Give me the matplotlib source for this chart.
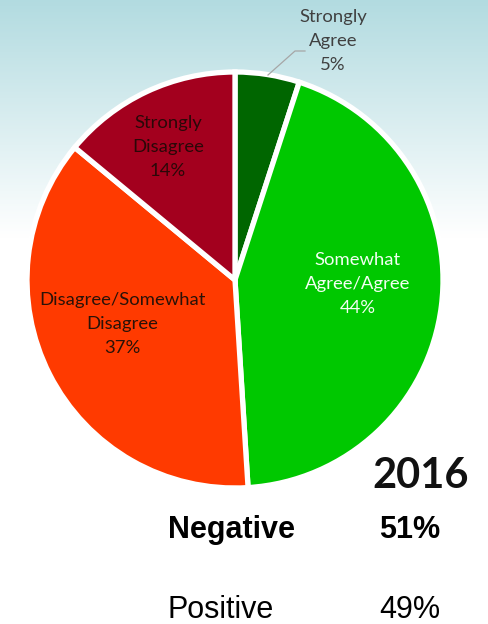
import numpy as np
import matplotlib.pyplot as plt

# Survey response shares (clockwise from 12 o'clock)
categories = ["Strongly\nAgree", "Somewhat\nAgree/Agree", "Disagree/Somewhat\nDisagree", "Strongly\nDisagree"]
shares = [5, 44, 37, 14]
colors = ["#006600", "#00C800", "#FF3A00", "#A3001E"]
label_colors = ["#404040", "#F2FFF2", "#2A1208", "#2A0808"]

summary_labels = ["Negative", "Positive"]
summary_values = [51, 49]
year = "2016"

W, H = 489, 624
fig = plt.figure(figsize=(W / 100, H / 100), dpi=100)

# soft teal-to-white wash across the top of the canvas
bg = fig.add_axes([0, 0, 1, 1])
bg.set_axis_off()
rows = np.linspace(0, 1, 300)
t = np.clip(rows / 0.38, 0, 1)
top = np.array([0.70, 0.86, 0.88])
col = top[None, :] * (1 - t[:, None]) + np.ones(3)[None, :] * t[:, None]
img = np.repeat(col[:, None, :], 2, axis=1)
bg.imshow(img, aspect="auto", extent=[0, 1, 0, 1], origin="upper")
bg.set_xlim(0, 1)
bg.set_ylim(0, 1)

# pie: centre (235, 280) px, radius 208 px
cx, cy, r = 235, 280, 208
ax = fig.add_axes([(cx - r) / W, (H - cy - r) / H, 2 * r / W, 2 * r / H])

wedges, _ = ax.pie(shares, colors=colors, startangle=90, counterclock=False,
                   wedgeprops=dict(edgecolor="white", linewidth=3.8, joinstyle="miter"))
for w in wedges:
    w.set_clip_on(False)
ax.set_xlim(-1, 1)
ax.set_ylim(-1, 1)
ax.set_aspect("equal")
ax.set_axis_off()

font = "Lato"
fs = 13.3


def px(x, y):
    return ((x - cx) / r, (cy - y) / r)


label_pos = [(333, 41), (358, 284), (122, 324), (168, 147)]
for cat, v, (lx, ly), c in zip(categories, shares, label_pos, label_colors):
    x, y = px(lx, ly)
    ax.text(x, y, f"{cat}\n{v}%", ha="center", va="center", color=c,
            fontsize=fs, family=font, linespacing=1.6, clip_on=False)

# leader line for the small slice
lx, ly = zip(*[px(305, 51), px(295, 51), px(268, 75)])
ax.plot(lx, ly, color="#A6A6A6", lw=0.9, clip_on=False)

# year and summary
fig.text(421 / W, 1 - 488 / H, year, ha="center", va="baseline",
         fontsize=30, fontweight="bold", family="Lato", color="#111111")
weights = ["bold", "normal"]
baselines = [538, 618]
for name, val, wt, b in zip(summary_labels, summary_values, weights, baselines):
    fig.text(168 / W, 1 - b / H, name, ha="left", va="baseline",
             fontsize=22, fontweight=wt, family="Liberation Sans", color="black")
    fig.text(379 / W, 1 - b / H, f"{val}%", ha="left", va="baseline",
             fontsize=22, fontweight=wt, family="Liberation Sans", color="black")

fig.savefig("out.png", dpi=100)
